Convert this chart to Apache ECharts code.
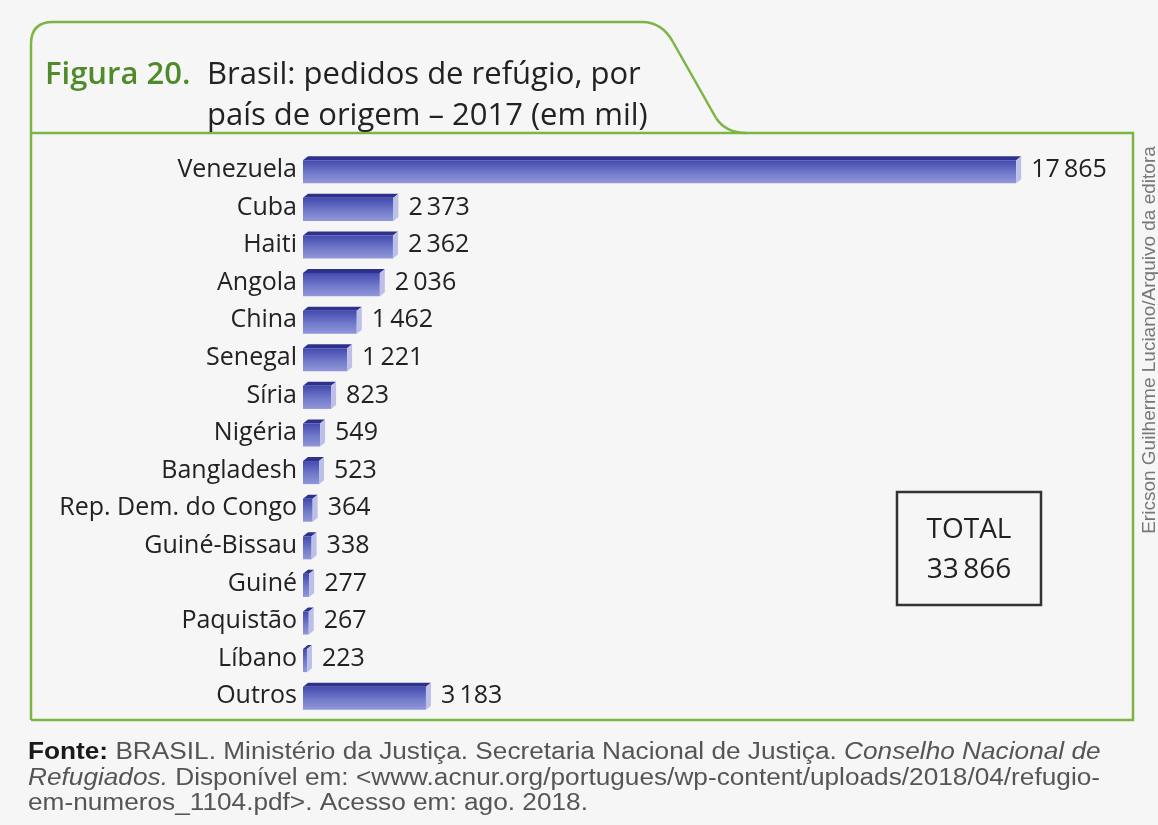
<!DOCTYPE html>
<html>
<head>
<meta charset="utf-8">
<script src="https://cdn.jsdelivr.net/npm/echarts@6/dist/echarts.min.js"></script>
<style>
  html, body { margin: 0; padding: 0; background: #f6f6f6; }
  #chart { width: 1158px; height: 825px; }
</style>
</head>
<body>
<div id="chart"></div>
<script>
// Pedidos de refúgio no Brasil em 2017, por país de origem
const categories = [
  'Venezuela', 'Cuba', 'Haiti', 'Angola', 'China', 'Senegal', 'Síria', 'Nigéria',
  'Bangladesh', 'Rep. Dem. do Congo', 'Guiné-Bissau', 'Guiné', 'Paquistão', 'Líbano', 'Outros'
];
const values = [17865, 2373, 2362, 2036, 1462, 1221, 823, 549, 523, 364, 338, 277, 267, 223, 3183];

const titleLabel = 'Figura 20.';
const titleLines = ['Brasil: pedidos de refúgio, por', 'país de origem – 2017 (em mil)'];
const creditText = 'Ericson Guilherme Luciano/Arquivo da editora';
const sourceLines = [
  '{b|Fonte:} BRASIL. Ministério da Justiça. Secretaria Nacional de Justiça. {i|Conselho Nacional de}',
  '{i|Refugiados.} Disponível em: <www.acnur.org/portugues/wp-content/uploads/2018/04/refugio-',
  'em-numeros_1104.pdf>. Acesso em: ago. 2018.'
];

const FONT = '"Open Sans", "Liberation Sans", sans-serif';
const SANS = '"Liberation Sans", Arial, sans-serif';
const GREEN = '#7db544';

// thousands separated by a thin space
const fmt = n => String(n).replace(/\B(?=(\d{3})+(?!\d))/g, '\u2009');
const total = values.reduce((a, b) => a + b, 0);

const chart = echarts.init(document.getElementById('chart'));

const frontFill = {
  type: 'linear', x: 0, y: 0, x2: 0, y2: 1,
  colorStops: [
    { offset: 0, color: '#434aae' },
    { offset: 0.55, color: '#7179ca' },
    { offset: 1, color: '#9197d8' }
  ]
};

// 3D-looking bar: top face, front face, right end face, value label
function renderBar(params, api) {
  const v = api.value(0);
  const idx = api.value(1);
  const p0 = api.coord([0, idx]);
  const p1 = api.coord([v, idx]);
  const h = api.size([0, 1])[1] * 0.72;
  const top = p0[1] - h / 2;
  const bot = p0[1] + h / 2;
  const d = 5, t = 4;
  const x0 = p0[0], x1 = p1[0];
  return {
    type: 'group',
    children: [
      { type: 'polygon', shape: { points: [[x0, top + t], [x0 + d, top], [x1, top], [x1 - d, top + t]] },
        style: { fill: '#2c318c' } },
      { type: 'rect', shape: { x: x0, y: top + t, width: x1 - d - x0, height: h - t },
        style: { fill: frontFill } },
      { type: 'polygon', shape: { points: [[x1 - d, top + t], [x1, top], [x1, bot - t], [x1 - d, bot]] },
        style: { fill: '#bcc0e8' } },
      { type: 'text', style: { text: fmt(v), x: x1 + 10, y: p0[1], verticalAlign: 'middle',
        font: '25px ' + FONT, fill: '#222' } }
    ]
  };
}

const frameStyle = { fill: null, stroke: GREEN, lineWidth: 2.5 };
const richSrc = {
  b: { fontWeight: 'bold', fill: '#1a1a1a', fontSize: 23, fontFamily: SANS },
  i: { fontStyle: 'italic', fill: '#555', fontSize: 23, fontFamily: SANS }
};

chart.setOption({
  backgroundColor: '#f6f6f6',
  animation: false,
  grid: { left: 303, right: 51, top: 151, height: 564 },
  xAxis: { type: 'value', min: 0, max: 20000, show: false },
  yAxis: {
    type: 'category',
    data: categories,
    inverse: true,
    axisLine: { show: false },
    axisTick: { show: false },
    splitLine: { show: false },
    axisLabel: { margin: 6, fontSize: 25, fontFamily: FONT, color: '#222' }
  },
  series: [{
    type: 'custom',
    renderItem: renderBar,
    encode: { x: 0, y: 1 },
    data: values.map((v, i) => [v, i])
  }],
  graphic: [
    // tab outline
    { type: 'line', shape: { x1: 31, y1: 720, x2: 31, y2: 44 }, style: frameStyle },
    { type: 'bezierCurve', shape: { x1: 31, y1: 44, cpx1: 31, cpy1: 22, x2: 53, y2: 22 }, style: frameStyle },
    { type: 'line', shape: { x1: 53, y1: 22, x2: 642, y2: 22 }, style: frameStyle },
    { type: 'bezierCurve', shape: { x1: 642, y1: 22, cpx1: 662, cpy1: 22, x2: 673, y2: 42 }, style: frameStyle },
    { type: 'line', shape: { x1: 673, y1: 42, x2: 716, y2: 118 }, style: frameStyle },
    { type: 'bezierCurve', shape: { x1: 716, y1: 118, cpx1: 726, cpy1: 133, x2: 746, y2: 133 }, style: frameStyle },
    // frame
    { type: 'polyline', shape: { points: [[31, 133], [1133, 133], [1133, 720], [31, 720]] }, style: frameStyle },
    // title
    { type: 'text', style: { text: titleLabel, x: 45, y: 75, verticalAlign: 'middle',
        font: '600 31px ' + FONT, fill: '#4f8a2b' } },
    { type: 'text', style: { text: titleLines[0], x: 207, y: 75, verticalAlign: 'middle',
        font: '31px ' + FONT, fill: '#222' } },
    { type: 'text', style: { text: titleLines[1], x: 207, y: 116, verticalAlign: 'middle',
        font: '31px ' + FONT, fill: '#222' } },
    // total box
    { type: 'rect', shape: { x: 897, y: 492, width: 144, height: 113 },
      style: { fill: null, stroke: '#333', lineWidth: 2.5 } },
    { type: 'text', style: { text: 'TOTAL', x: 969, y: 530, align: 'center', verticalAlign: 'middle',
        font: '28px ' + FONT, fill: '#222' } },
    { type: 'text', style: { text: fmt(total), x: 969, y: 570, align: 'center', verticalAlign: 'middle',
        font: '28px ' + FONT, fill: '#222' } },
    // credit
    { type: 'text', x: 1150, y: 340, rotation: Math.PI / 2,
      style: { text: creditText, x: 0, y: 0, align: 'center', verticalAlign: 'middle',
        font: '19px ' + SANS, fill: '#777' } },
    // source
    { type: 'text', x: 28, y: 753, scaleX: 1.14,
      style: { x: 0, y: 0, verticalAlign: 'middle', text: sourceLines[0],
        font: '23px ' + SANS, fill: '#555', rich: richSrc } },
    { type: 'text', x: 28, y: 779, scaleX: 1.14,
      style: { x: 0, y: 0, verticalAlign: 'middle', text: sourceLines[1],
        font: '23px ' + SANS, fill: '#555', rich: richSrc } },
    { type: 'text', x: 28, y: 804, scaleX: 1.14,
      style: { x: 0, y: 0, verticalAlign: 'middle', text: sourceLines[2],
        font: '23px ' + SANS, fill: '#555' } }
  ]
});
</script>
</body>
</html>
